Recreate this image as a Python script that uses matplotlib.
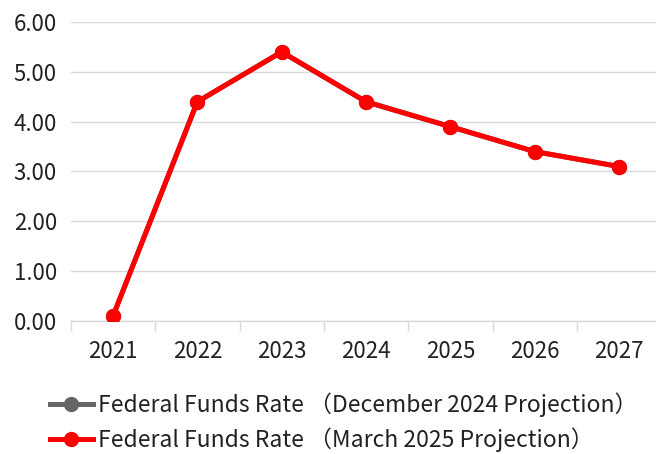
import matplotlib.pyplot as plt
import numpy as np

plt.rcParams['font.family'] = ['Noto Sans CJK SC', 'DejaVu Sans']

years = ['2021', '2022', '2023', '2024', '2025', '2026', '2027']
dec_2024 = [0.1, 4.4, 5.4, 4.4, 3.9, 3.4, 3.1]
mar_2025 = [0.1, 4.4, 5.4, 4.4, 3.9, 3.4, 3.1]
labels = ['Federal Funds Rate （December 2024 Projection）',
          'Federal Funds Rate （March 2025 Projection）']

fig = plt.figure(figsize=(6.56, 4.54), dpi=100)
ax = fig.add_axes([0.108, 0.293, 0.9, 0.6585])

x = np.arange(len(years))
ax.plot(x, dec_2024, color='#666666', lw=3.6, marker='o', ms=10, label=labels[0], zorder=3)
ax.plot(x, mar_2025, color='#ff0000', lw=3.6, marker='o', ms=10, label=labels[1], zorder=4)

ax.set_xlim(-0.5, len(years) - 0.5)
ax.set_ylim(0, 6)
ax.set_yticks(np.arange(0, 7, 1))
ax.set_yticklabels(['%.2f' % v for v in np.arange(0, 7, 1)])
ax.set_xticks(x)
ax.set_xticklabels(years)
ax.set_xticks(np.arange(-0.5, len(years), 1), minor=True)
ax.tick_params(axis='x', which='major', length=0, pad=14, labelsize=16, colors='#222222')
ax.tick_params(axis='x', which='minor', length=7, color='#d9d9d9', width=1)
ax.tick_params(axis='y', length=0, pad=10, labelsize=16, colors='#222222')
ax.grid(axis='y', color='#d9d9d9', lw=1)
ax.set_axisbelow(True)
for s in ['top', 'right', 'left']:
    ax.spines[s].set_visible(False)
ax.spines['bottom'].set_color('#d9d9d9')
ax.spines['bottom'].set_linewidth(1)
ax.spines['bottom'].set_zorder(1)

fig.legend(loc='upper left', bbox_to_anchor=(0.058, 0.16), frameon=False,
           fontsize=16.5, handlelength=1.9, handletextpad=0.2, labelspacing=0.45,
           borderpad=0, labelcolor='#222222')

fig.savefig('out.png', dpi=100)
